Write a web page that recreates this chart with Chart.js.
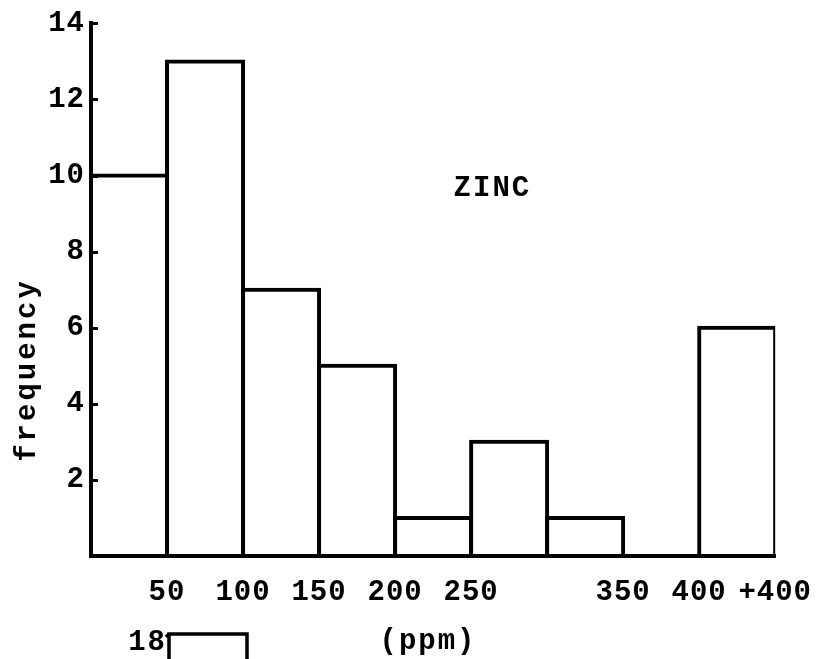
<!DOCTYPE html>
<html>
<head>
<meta charset="utf-8">
<script src="https://cdn.jsdelivr.net/npm/chart.js@4/dist/chart.umd.min.js"></script>
<style>
  html, body { margin: 0; padding: 0; background: #fff; }
  #wrap { width: 829px; height: 659px; }
</style>
</head>
<body>
<div id="wrap"><canvas id="zincChart"></canvas></div>
<script>
// Zinc classes in ppm: lower edge of each 50 ppm bin, last one is "+400"
const binStarts = [0, 50, 100, 150, 200, 250, 300, 350, 400];
const binWidth = 50;
const frequencies = [10, 13, 7, 5, 1, 3, 1, 0, 6];

// Axis ticks (300 never got a label on the typed sheet)
const xTickValues = [50, 100, 150, 200, 250, 350, 400, 450];
const xTickLabels = ["50", "100", "150", "200", "250", "350", "400", "+400"];
const yTickValues = [2, 4, 6, 8, 10, 12, 14];

const FONT = '"Liberation Mono", "DejaVu Sans Mono", monospace';
Chart.defaults.font.family = FONT;
Chart.defaults.font.size = 29;
Chart.defaults.font.weight = "bold";
Chart.defaults.color = "#000";

// Typewriter look: letter spacing, inward tick marks and the loose labels
const typedSheet = {
  id: "typedSheet",
  beforeDraw(chart) {
    chart.ctx.letterSpacing = "1px";
  },
  afterDatasetsDraw(chart) {
    const { ctx, chartArea: ca, scales } = chart;
    ctx.save();
    ctx.strokeStyle = "#000";
    ctx.lineWidth = 3;
    yTickValues.forEach(v => {
      const y = Math.round(scales.y.getPixelForValue(v)) + 0.5;
      ctx.beginPath();
      ctx.moveTo(ca.left, y);
      ctx.lineTo(ca.left + 7, y);
      ctx.stroke();
    });
    ctx.restore();
  },
  afterDraw(chart) {
    const { ctx, scales } = chart;
    ctx.save();
    ctx.fillStyle = "#000";
    ctx.font = "bold 29px " + FONT;
    ctx.letterSpacing = "2px";

    // chart name inside the plot
    ctx.textAlign = "center";
    ctx.textBaseline = "middle";
    ctx.fillText("ZINC", scales.x.getPixelForValue(264), scales.y.getPixelForValue(9.65));

    // x axis unit
    ctx.fillText("(ppm)", 428, 642);

    // y axis name, rotated
    ctx.save();
    ctx.translate(28, 370);
    ctx.rotate(-Math.PI / 2);
    ctx.letterSpacing = "3px";
    ctx.fillText("frequency", 0, 0);
    ctx.restore();

    // top of the next figure showing below
    ctx.textAlign = "right";
    ctx.fillText("18", 167, 643);
    ctx.strokeStyle = "#000";
    ctx.lineWidth = 3.5;
    ctx.beginPath();
    ctx.moveTo(169, 659);
    ctx.lineTo(169, 634);
    ctx.lineTo(247, 634);
    ctx.lineTo(247, 659);
    ctx.stroke();
    ctx.beginPath();
    ctx.moveTo(166, 637);
    ctx.lineTo(169, 634);
    ctx.stroke();
    ctx.restore();
  }
};

const ctx = document.getElementById("zincChart").getContext("2d");
const zincChart = new Chart(ctx, {
  type: "bar",
  data: {
    datasets: [{
      label: "frequency",
      data: binStarts.map((s, i) => ({ x: s + binWidth / 2, y: frequencies[i] })),
      backgroundColor: "#fff",
      borderColor: "#000",
      borderWidth: 4,
      borderSkipped: false,
      inflateAmount: 2,
      barPercentage: 1,
      categoryPercentage: 1
    }]
  },
  options: {
    responsive: true,
    maintainAspectRatio: false,
    animation: false,
    layout: { padding: { top: 17, right: 51, left: 0, bottom: 0 } },
    plugins: { legend: { display: false }, tooltip: { enabled: false } },
    scales: {
      x: {
        type: "linear",
        min: 0,
        max: 450,
        offset: false,
        grid: { display: false, drawTicks: false, offset: false },
        border: { display: true, color: "#000", width: 4 },
        afterBuildTicks: scale => { scale.ticks = xTickValues.map(v => ({ value: v })); },
        afterFit: scale => { scale.height = 103; },
        ticks: {
          maxRotation: 0,
          autoSkip: false,
          padding: 19,
          callback: value => xTickLabels[xTickValues.indexOf(value)]
        }
      },
      y: {
        min: 0,
        max: 14,
        grid: { display: false, drawTicks: false },
        border: { display: true, color: "#000", width: 4 },
        afterBuildTicks: scale => { scale.ticks = yTickValues.map(v => ({ value: v })); },
        afterFit: scale => { scale.width = 91; },
        ticks: { padding: 6 }
      }
    }
  },
  plugins: [typedSheet]
});
</script>
</body>
</html>
